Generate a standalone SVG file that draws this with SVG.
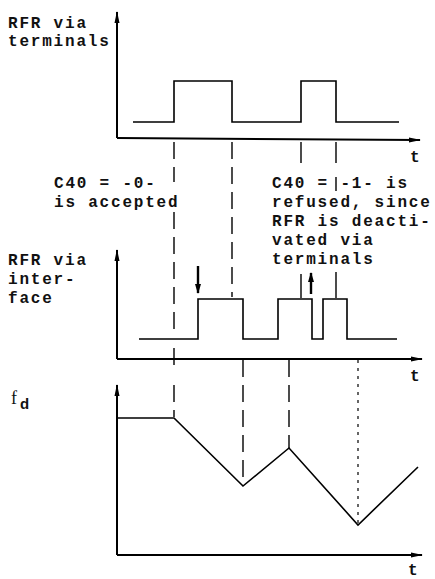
<svg xmlns="http://www.w3.org/2000/svg" width="435" height="579" viewBox="0 0 435 579">
<style>
.lbl{font-family:"Liberation Mono","Courier New",monospace;font-size:16px;font-weight:bold;letter-spacing:1.8px;fill:#111}
.ax{stroke:#000;stroke-width:2;fill:none}
.sig{stroke:#000;stroke-width:1.6;fill:none}
.dash{stroke:#000;stroke-width:1.4;fill:none;stroke-dasharray:17 8}
.dot{stroke:#000;stroke-width:1.2;fill:none;stroke-dasharray:3 5}
.ldr{stroke:#000;stroke-width:1.4;fill:none}
.ptr{stroke:#000;stroke-width:2.4;fill:none}
</style>
<defs>
<marker id="ah" viewBox="0 0 12 6" refX="11" refY="3" markerWidth="12" markerHeight="6" markerUnits="userSpaceOnUse" orient="auto">
<path d="M0,0.5 L12,3 L0,5.5 Z" fill="#000"/>
</marker>
<marker id="ph" viewBox="0 0 10 6" refX="9" refY="3" markerWidth="10" markerHeight="6" markerUnits="userSpaceOnUse" orient="auto">
<path d="M0,0 L10,3 L0,6 Z" fill="#000"/>
</marker>
</defs>
<rect width="435" height="579" fill="#fff"/>

<g id="panel-terminals">
<path class="ax" d="M117,138 L117,12" marker-end="url(#ah)"/>
<path class="ax" d="M117,138 L420,140" marker-end="url(#ah)"/>
<path class="sig" d="M133,122 L174,122 L174,81 L232,81 L232,122 L301,122 L301,81 L336,81 L336,122 L399,122"/>
<text class="lbl" x="8" y="28">RFR via</text>
<text class="lbl" x="8" y="46">terminals</text>
<text class="lbl" x="410" y="162">t</text>
</g>

<g id="panel-interface">
<path class="ax" d="M117,359 L117,250" marker-end="url(#ah)"/>
<path class="ax" d="M117,359 L422,359" marker-end="url(#ah)"/>
<path class="sig" d="M139,339 L198,339 L198,299 L243,299 L243,339 L278,339 L278,299 L312,299 L312,339 L323,339 L323,299 L347,299 L347,339 L397,339"/>
<text class="lbl" x="8" y="265">RFR via</text>
<text class="lbl" x="8" y="284">inter-</text>
<text class="lbl" x="8" y="303">face</text>
<text class="lbl" x="410" y="381">t</text>
</g>

<g id="panel-fd">
<path class="ax" d="M117,555 L117,385" marker-end="url(#ah)"/>
<path class="ax" d="M117,555 L422,555" marker-end="url(#ah)"/>
<path class="sig" d="M117,418 L174,418 L243,486 L289,448 L358,525 L418,467"/>
<text x="11" y="404" font-family="Liberation Serif,serif" font-size="18" fill="#111">f</text>
<text x="20" y="409" font-family="Liberation Sans,sans-serif" font-size="15" font-weight="bold" fill="#111">d</text>
<text class="lbl" x="408" y="575">t</text>
</g>

<g id="note-accepted">
<text class="lbl" x="54" y="188">C40 = -0-</text>
<text class="lbl" x="54" y="207">is accepted</text>
<path class="ptr" d="M198,266 L198,293" marker-end="url(#ph)"/>
</g>

<g id="note-refused">
<text class="lbl" x="272" y="188">C40 = -1- is</text>
<text class="lbl" x="272" y="207">refused, since</text>
<text class="lbl" x="272" y="226">RFR is deacti-</text>
<text class="lbl" x="272" y="245">vated via</text>
<text class="lbl" x="272" y="264">terminals</text>
<path class="ptr" d="M311,294 L311,273" marker-end="url(#ph)"/>
</g>

<g id="connectors">
<path class="dash" d="M174,142 L174,182 M174,212 L174,330 M174,348 L174,372 M174,385 L174,417"/>
<path class="dash" d="M232,142 L232,297"/>
<path class="ldr" d="M301,142 L301,163 M301,274 L301,298"/>
<path class="ldr" d="M336,142 L336,163 M336,177 L336,191 M336,272 L336,298"/>
<path class="dash" d="M243,360 L243,486"/>
<path class="dash" d="M289,360 L289,448"/>
<path class="dot" d="M358,360 L358,525"/>
</g>
</svg>
